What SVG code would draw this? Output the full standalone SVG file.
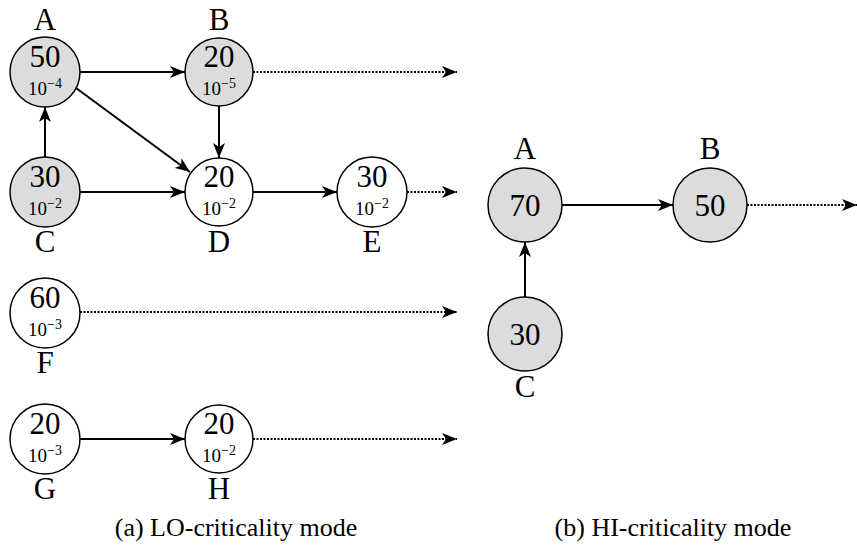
<svg xmlns="http://www.w3.org/2000/svg" width="857" height="550" viewBox="0 0 857 550">
<style>
.n{stroke:#000;stroke-width:1.5}
.g{fill:#dcdcdc}
.w{fill:#fff}
.t{font-family:"Liberation Serif","Times New Roman",serif;fill:#000;text-anchor:middle}
.big{font-size:31px}
.lbl{font-size:31px}
.sm{font-size:19px}
.cap{font-size:26px}
.e{stroke:#000;stroke-width:2;fill:none}
.d{stroke:#000;stroke-width:2;fill:none;stroke-dasharray:2 1.5}
</style>
<defs>
<marker id="ar" markerWidth="16" markerHeight="12" refX="15" refY="6" orient="auto" markerUnits="userSpaceOnUse">
<path d="M0,0 L15,6 L0,12 L4,6 Z" fill="#000"/>
</marker>
</defs>
<rect width="857" height="550" fill="#fff"/>
<g id="connectors">
<line class="e" x1="80" y1="72" x2="185" y2="72" marker-end="url(#ar)"/>
<line class="e" x1="76" y1="88" x2="190" y2="172" marker-end="url(#ar)"/>
<line class="e" x1="219" y1="106" x2="219" y2="158" marker-end="url(#ar)"/>
<line class="e" x1="45" y1="158" x2="45" y2="107" marker-end="url(#ar)"/>
<line class="e" x1="80" y1="192" x2="185" y2="192" marker-end="url(#ar)"/>
<line class="e" x1="253" y1="192" x2="337" y2="192" marker-end="url(#ar)"/>
<line class="e" x1="80" y1="439" x2="185" y2="439" marker-end="url(#ar)"/>
<line class="d" x1="253" y1="72" x2="457" y2="72" marker-end="url(#ar)"/>
<line class="d" x1="407" y1="192" x2="457" y2="192" marker-end="url(#ar)"/>
<line class="d" x1="80" y1="312" x2="457" y2="312" marker-end="url(#ar)"/>
<line class="d" x1="253" y1="439" x2="457" y2="439" marker-end="url(#ar)"/>
<line class="e" x1="562" y1="205" x2="673" y2="205" marker-end="url(#ar)"/>
<line class="e" x1="525" y1="297" x2="525" y2="242" marker-end="url(#ar)"/>
<line class="d" x1="747" y1="205" x2="857" y2="205" marker-end="url(#ar)"/>
</g>
<g id="lo-A">
<circle class="n g" cx="45" cy="72" r="35"/>
<text class="t big" x="45" y="67">50</text>
<text class="t sm" x="45" y="95">10<tspan font-size="14" dy="-7">−4</tspan></text>
<text class="t lbl" x="45" y="30">A</text>
</g>
<g id="lo-B">
<circle class="n g" cx="219" cy="72" r="34"/>
<text class="t big" x="219" y="67">20</text>
<text class="t sm" x="219" y="95">10<tspan font-size="14" dy="-7">−5</tspan></text>
<text class="t lbl" x="219" y="30">B</text>
</g>
<g id="lo-C">
<circle class="n g" cx="45" cy="192" r="35"/>
<text class="t big" x="45" y="187">30</text>
<text class="t sm" x="45" y="215">10<tspan font-size="14" dy="-7">−2</tspan></text>
<text class="t lbl" x="45" y="252">C</text>
</g>
<g id="lo-D">
<circle class="n w" cx="219" cy="192" r="34"/>
<text class="t big" x="219" y="187">20</text>
<text class="t sm" x="219" y="215">10<tspan font-size="14" dy="-7">−2</tspan></text>
<text class="t lbl" x="219" y="252">D</text>
</g>
<g id="lo-E">
<circle class="n w" cx="372" cy="192" r="35"/>
<text class="t big" x="372" y="187">30</text>
<text class="t sm" x="372" y="215">10<tspan font-size="14" dy="-7">−2</tspan></text>
<text class="t lbl" x="372" y="252">E</text>
</g>
<g id="lo-F">
<circle class="n w" cx="45" cy="313" r="35"/>
<text class="t big" x="45" y="308">60</text>
<text class="t sm" x="45" y="336">10<tspan font-size="14" dy="-7">−3</tspan></text>
<text class="t lbl" x="45" y="373">F</text>
</g>
<g id="lo-G">
<circle class="n w" cx="45" cy="439" r="35"/>
<text class="t big" x="45" y="434">20</text>
<text class="t sm" x="45" y="462">10<tspan font-size="14" dy="-7">−3</tspan></text>
<text class="t lbl" x="45" y="499">G</text>
</g>
<g id="lo-H">
<circle class="n w" cx="219" cy="439" r="34"/>
<text class="t big" x="219" y="434">20</text>
<text class="t sm" x="219" y="462">10<tspan font-size="14" dy="-7">−2</tspan></text>
<text class="t lbl" x="219" y="499">H</text>
</g>
<g id="hi-A">
<circle class="n g" cx="525" cy="205" r="37"/>
<text class="t big" x="525" y="216">70</text>
<text class="t lbl" x="525" y="159">A</text>
</g>
<g id="hi-B">
<circle class="n g" cx="710" cy="205" r="37"/>
<text class="t big" x="710" y="216">50</text>
<text class="t lbl" x="710" y="159">B</text>
</g>
<g id="hi-C">
<circle class="n g" cx="525" cy="334" r="37"/>
<text class="t big" x="525" y="345">30</text>
<text class="t lbl" x="525" y="397">C</text>
</g>
<g id="captions">
<text class="t cap" x="236" y="536">(a) LO-criticality mode</text>
<text class="t cap" x="673" y="536">(b) HI-criticality mode</text>
</g>
</svg>
